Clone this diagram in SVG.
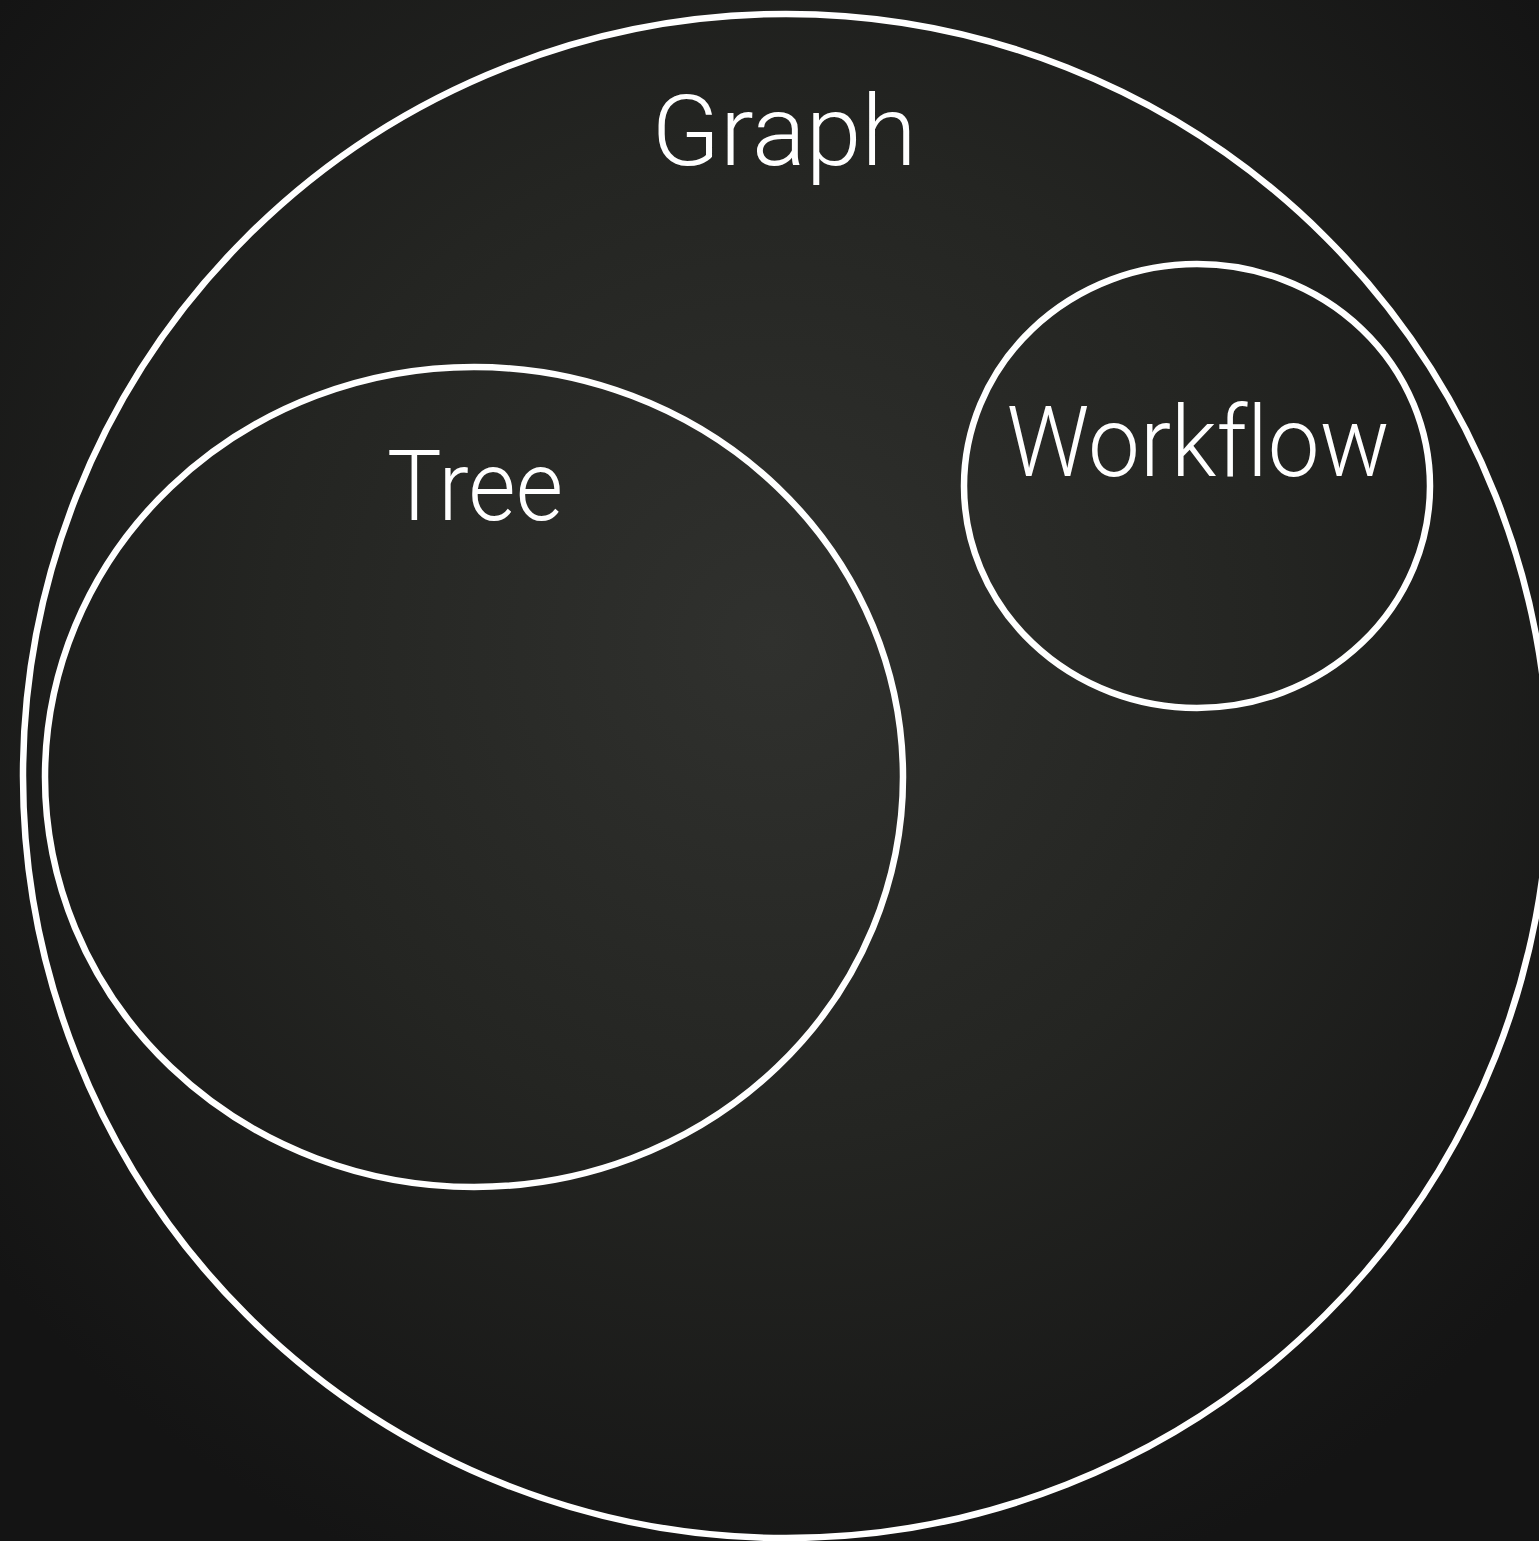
<svg xmlns="http://www.w3.org/2000/svg" width="1539" height="1541" viewBox="0 0 1539 1541">
<style>
.ring{fill:none;stroke:#ffffff;stroke-width:6.5}
.lbl{fill:#ffffff;font-family:Roboto,"Liberation Sans",sans-serif;font-weight:300;text-anchor:middle;font-variant-ligatures:none;font-feature-settings:"liga" 0,"clig" 0}
</style>
<defs>
<radialGradient id="bg" cx="770" cy="640" r="1000" gradientUnits="userSpaceOnUse">
<stop offset="0" stop-color="#30312e"/>
<stop offset="0.5" stop-color="#242522"/>
<stop offset="1" stop-color="#141414"/>
</radialGradient>
</defs>
<rect width="1539" height="1541" fill="url(#bg)"/>
<g id="graph">
<ellipse class="ring" cx="786" cy="776" rx="763" ry="762"/>
<text class="lbl" x="784" y="165" font-size="98" textLength="265" lengthAdjust="spacingAndGlyphs">Graph</text>
</g>
<g id="tree">
<ellipse class="ring" cx="474" cy="777" rx="429" ry="410"/>
<text class="lbl" x="475" y="520" font-size="98" textLength="176" lengthAdjust="spacingAndGlyphs">Tree</text>
</g>
<g id="workflow">
<ellipse class="ring" cx="1197" cy="486" rx="233" ry="222"/>
<text class="lbl" x="1198" y="476" font-size="98" textLength="383" lengthAdjust="spacingAndGlyphs">Workflow</text>
</g>
<g id="connectors"/>
</svg>
